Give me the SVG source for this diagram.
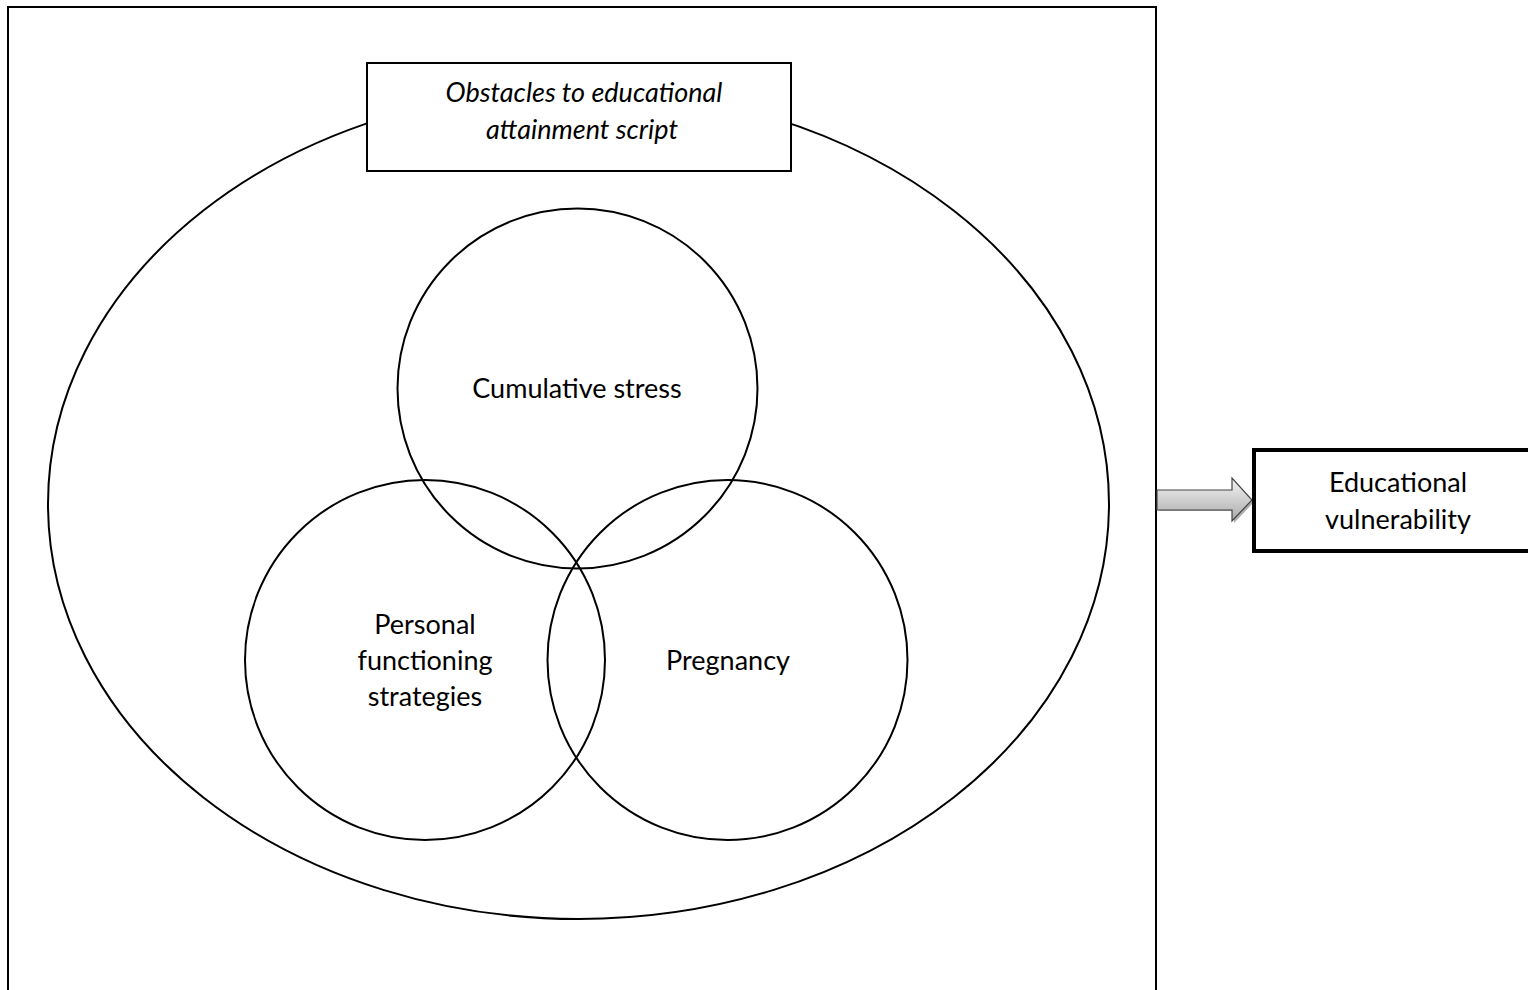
<svg xmlns="http://www.w3.org/2000/svg" width="1528" height="990" viewBox="0 0 1528 990">
  <defs>
    <style>
      .line { fill: none; stroke: #000; stroke-width: 2; }
      .box { fill: #fff; stroke: #000; }
      .label { font-family: Lato, "Open Sans", "Liberation Sans", sans-serif; font-size: 27px; fill: #000; text-anchor: middle; }
      .italic { font-style: italic; }
    </style>
    <linearGradient id="arrowFill" x1="0" y1="0" x2="0" y2="1">
      <stop offset="0" stop-color="#f4f4f4"/>
      <stop offset="0.5" stop-color="#d0d0d0"/>
      <stop offset="1" stop-color="#a8a8a8"/>
    </linearGradient>
  </defs>

  <rect width="1528" height="990" fill="#fff"/>

  <!-- outer frame -->
  <g id="frame">
    <rect class="line" x="8" y="7" width="1148" height="1000"/>
  </g>

  <!-- enclosing ellipse -->
  <g id="script-ellipse">
    <ellipse class="line" cx="578.5" cy="504" rx="530.5" ry="415"/>
  </g>

  <!-- script title box -->
  <g id="title">
    <rect class="box" x="367" y="63" width="424" height="108" stroke-width="2"/>
    <text class="label italic" x="584" y="102">Obstacles to educational</text>
    <text class="label italic" x="582" y="139">attainment script</text>
  </g>

  <!-- three overlapping factors -->
  <g id="cumulative-stress">
    <circle class="line" cx="577.5" cy="388.5" r="180"/>
    <text class="label" x="577" y="398">Cumulative stress</text>
  </g>
  <g id="personal-functioning">
    <circle class="line" cx="425" cy="660" r="180"/>
    <text class="label" x="425" y="634">Personal</text>
    <text class="label" x="425" y="670">functioning</text>
    <text class="label" x="425" y="706">strategies</text>
  </g>
  <g id="pregnancy">
    <circle class="line" cx="727.5" cy="660" r="180"/>
    <text class="label" x="728" y="670">Pregnancy</text>
  </g>

  <!-- block arrow to outcome -->
  <g id="connectors">
    <path d="M1159,493 H1234 V481 L1254,502 L1234,523 V511 H1159 Z" fill="#777" opacity="0.6"/>
    <path d="M1157,490 H1232 V478 L1252,500 L1232,521 V510 H1157 Z" fill="url(#arrowFill)" stroke="#444" stroke-width="1.2"/>
  </g>

  <!-- outcome box -->
  <g id="educational-vulnerability">
    <rect class="box" x="1254" y="450" width="290" height="101" stroke-width="4"/>
    <text class="label" x="1398" y="492">Educational</text>
    <text class="label" x="1398" y="529">vulnerability</text>
  </g>
</svg>
